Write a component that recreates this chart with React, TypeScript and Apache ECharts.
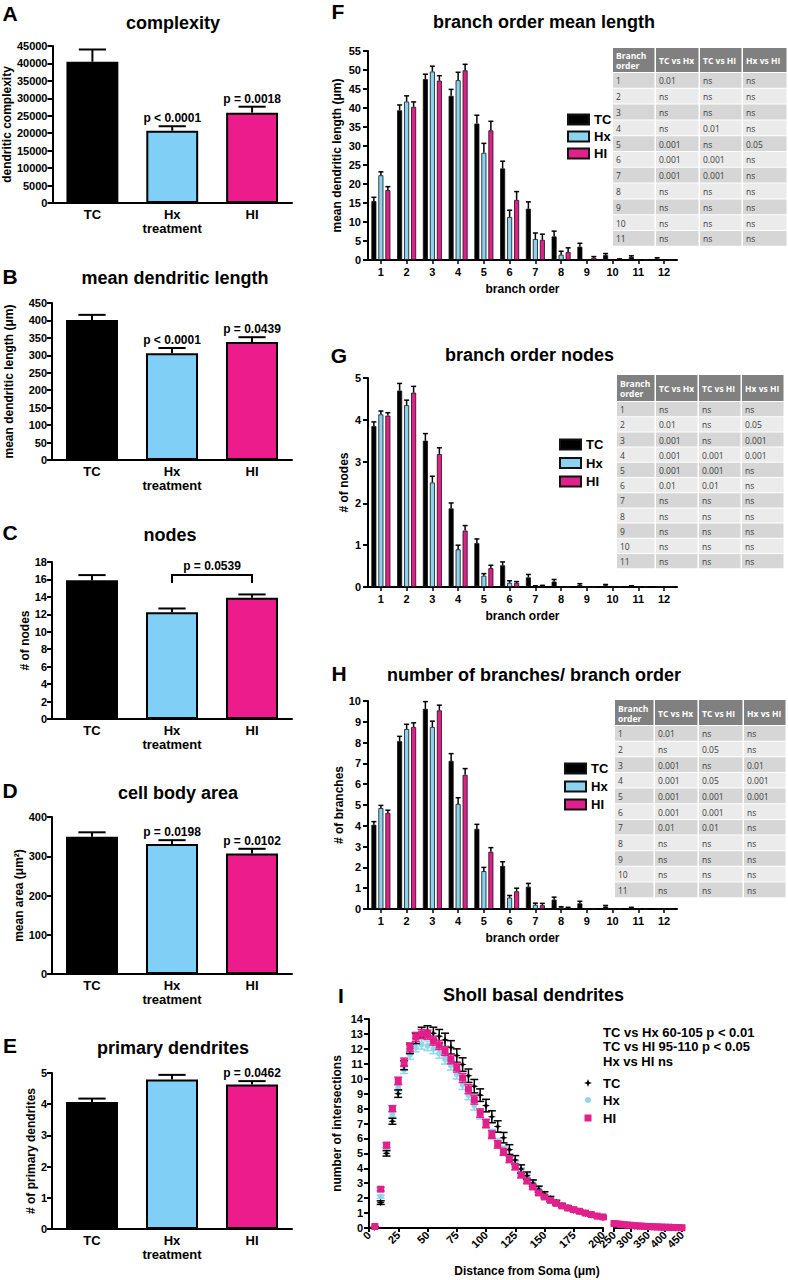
import React, { useEffect, useRef } from 'react';
import * as echarts from 'echarts';

// ---------------- data ----------------
const groups = ['TC', 'Hx', 'HI'];
const groupColors = ['#000000', '#80CFF7', '#EC1C8C'];

const complexityMean = [40500, 20700, 25900];
const complexityErr = [3500, 1300, 1700];
const complexityP = ['', 'p < 0.0001', 'p = 0.0018'];

const lengthMean = [401, 306, 338];
const lengthErr = [15, 15, 14];
const lengthP = ['', 'p < 0.0001', 'p = 0.0439'];

const nodesMean = [15.9, 12.25, 13.9];
const nodesErr = [0.6, 0.42, 0.38];
const nodesP = ['', '', ''];
const nodesBracketP = 'p = 0.0539';

const areaMean = [350, 331, 307];
const areaErr = [11, 10, 12];
const areaP = ['', 'p = 0.0198', 'p = 0.0102'];

const primaryMean = [4.07, 4.79, 4.63];
const primaryErr = [0.11, 0.15, 0.11];
const primaryP = ['', '', 'p = 0.0462'];

const branchOrders = ['1', '2', '3', '4', '5', '6', '7', '8', '9', '10', '11', '12'];

const fTC = [15.5, 39.4, 47.6, 43.2, 35.9, 24.1, 13.5, 6.2, 3.5, 1.3, 0.8, 0.4];
const fHx = [22.3, 41.7, 49.6, 47.3, 28.2, 11.3, 5.5, 1.4, 0, 0, 0, 0];
const fHI = [18.4, 40.3, 47.2, 49.9, 34.1, 15.8, 5.3, 2.1, 0.6, 0.2, 0, 0];
const fTCErr = [1.0, 1.4, 1.3, 1.7, 2.2, 1.9, 1.8, 1.4, 0.9, 0.4, 0.3, 0.2];
const fHxErr = [0.9, 1.5, 1.4, 2.1, 2.5, 1.8, 1.6, 0.9, 0, 0, 0, 0];
const fHIErr = [0.9, 1.3, 1.3, 1.6, 2.4, 2.2, 1.5, 1.1, 0.3, 0.1, 0, 0];

const gTC = [3.85, 4.7, 3.5, 1.88, 1.05, 0.52, 0.23, 0.13, 0.05, 0.04, 0.02, 0.01];
const gHx = [4.13, 4.35, 2.5, 0.9, 0.27, 0.1, 0.02, 0, 0, 0, 0, 0];
const gHI = [4.1, 4.65, 3.18, 1.35, 0.45, 0.1, 0.03, 0, 0, 0, 0, 0];
const gTCErr = [0.1, 0.17, 0.17, 0.13, 0.1, 0.08, 0.07, 0.05, 0.03, 0.02, 0.01, 0];
const gHxErr = [0.08, 0.12, 0.15, 0.1, 0.05, 0.05, 0.01, 0, 0, 0, 0, 0];
const gHIErr = [0.07, 0.15, 0.15, 0.12, 0.07, 0.03, 0.01, 0, 0, 0, 0, 0];

const hTC = [4.05, 8.07, 9.62, 7.12, 3.85, 2.07, 1.07, 0.45, 0.27, 0.12, 0.05, 0];
const hHx = [4.85, 8.65, 8.75, 5.05, 1.82, 0.55, 0.2, 0.08, 0, 0, 0, 0];
const hHI = [4.62, 8.75, 9.55, 6.45, 2.75, 0.85, 0.18, 0.05, 0, 0, 0, 0];
const hTCErr = [0.15, 0.23, 0.35, 0.35, 0.22, 0.2, 0.16, 0.12, 0.1, 0.05, 0.03, 0];
const hHxErr = [0.13, 0.23, 0.28, 0.3, 0.18, 0.1, 0.08, 0.03, 0, 0, 0, 0];
const hHIErr = [0.13, 0.2, 0.25, 0.3, 0.2, 0.15, 0.09, 0.03, 0, 0, 0, 0];

const tableHeaders = ['Branch\norder', 'TC vs Hx', 'TC vs HI', 'Hx vs HI'];
const tableOrders = ['1', '2', '3', '4', '5', '6', '7', '8', '9', '10', '11'];
const fTcHx = ['0.01', 'ns', 'ns', 'ns', '0.001', '0.001', '0.001', 'ns', 'ns', 'ns', 'ns'];
const fTcHI = ['ns', 'ns', 'ns', '0.01', 'ns', '0.001', '0.001', 'ns', 'ns', 'ns', 'ns'];
const fHxHI = ['ns', 'ns', 'ns', 'ns', '0.05', 'ns', 'ns', 'ns', 'ns', 'ns', 'ns'];
const gTcHx = ['ns', '0.01', '0.001', '0.001', '0.001', '0.01', 'ns', 'ns', 'ns', 'ns', 'ns'];
const gTcHI = ['ns', 'ns', 'ns', '0.001', '0.001', '0.01', 'ns', 'ns', 'ns', 'ns', 'ns'];
const gHxHI = ['ns', '0.05', '0.001', '0.001', 'ns', 'ns', 'ns', 'ns', 'ns', 'ns', 'ns'];
const hTcHx = ['0.01', 'ns', '0.001', '0.001', '0.001', '0.001', '0.01', 'ns', 'ns', 'ns', 'ns'];
const hTcHI = ['ns', '0.05', 'ns', '0.05', '0.001', '0.001', '0.01', 'ns', 'ns', 'ns', 'ns'];
const hHxHI = ['ns', 'ns', '0.01', '0.001', '0.001', 'ns', 'ns', 'ns', 'ns', 'ns', 'ns'];

const shollDist = [5, 10, 15, 20, 25, 30, 35, 40, 45, 50, 55, 60, 65, 70, 75, 80, 85, 90, 95, 100,
  105, 110, 115, 120, 125, 130, 135, 140, 145, 150, 155, 160, 165, 170, 175, 180, 185, 190, 195, 200];
const shollTC = [0.05, 1.7, 5.0, 7.15, 9.0, 10.9, 12.0, 12.7, 13.1, 13.2, 13.05, 12.85, 12.6, 12.1, 11.55, 10.95, 10.2, 9.5, 8.9, 8.2,
  7.45, 6.8, 6.05, 5.25, 4.55, 3.95, 3.5, 3.0, 2.6, 2.25, 1.95, 1.7, 1.5, 1.35, 1.2, 1.1, 0.98, 0.88, 0.78, 0.7];
const shollHx = [0.08, 2.1, 5.4, 7.6, 9.4, 10.6, 11.6, 12.1, 12.3, 12.2, 12.0, 11.7, 11.3, 10.9, 10.3, 9.6, 8.9, 8.2, 7.6, 7.0,
  6.35, 5.75, 5.25, 4.75, 4.3, 3.85, 3.45, 3.05, 2.65, 2.3, 2.0, 1.75, 1.55, 1.4, 1.25, 1.1, 1.0, 0.9, 0.8, 0.7];
const shollHI = [0.1, 2.6, 5.55, 8.0, 9.85, 11.1, 12.1, 12.8, 13.0, 12.95, 12.55, 12.25, 11.85, 11.3, 10.75, 10.05, 9.3, 8.6, 7.7, 7.0,
  6.25, 5.6, 5.1, 4.6, 4.1, 3.55, 3.15, 2.75, 2.35, 2.08, 1.85, 1.65, 1.48, 1.34, 1.23, 1.12, 1.0, 0.9, 0.8, 0.74];
const shollTCErr = [0.02, 0.12, 0.18, 0.2, 0.25, 0.3, 0.32, 0.35, 0.35, 0.35, 0.4, 0.45, 0.45, 0.45, 0.45, 0.45, 0.45, 0.45, 0.42, 0.42,
  0.4, 0.38, 0.35, 0.33, 0.3, 0.28, 0.25, 0.22, 0.2, 0.18, 0.16, 0.15, 0.13, 0.12, 0.11, 0.1, 0.1, 0.09, 0.08, 0.08];
const shollHxErr = [0.02, 0.1, 0.15, 0.18, 0.22, 0.25, 0.3, 0.3, 0.32, 0.32, 0.32, 0.32, 0.32, 0.32, 0.32, 0.32, 0.3, 0.3, 0.3, 0.28,
  0.26, 0.24, 0.22, 0.2, 0.2, 0.18, 0.17, 0.15, 0.14, 0.12, 0.11, 0.1, 0.1, 0.09, 0.08, 0.08, 0.07, 0.07, 0.06, 0.06];
const shollHIErr = [0.02, 0.12, 0.17, 0.2, 0.25, 0.28, 0.3, 0.3, 0.3, 0.3, 0.3, 0.3, 0.3, 0.3, 0.3, 0.3, 0.3, 0.3, 0.28, 0.28,
  0.26, 0.25, 0.23, 0.22, 0.2, 0.18, 0.17, 0.15, 0.14, 0.12, 0.11, 0.1, 0.1, 0.09, 0.08, 0.08, 0.07, 0.07, 0.06, 0.06];

const shollTailDist = [250, 260, 270, 280, 290, 300, 310, 320, 330, 340, 350, 360, 370, 380, 390, 400, 410, 420, 430, 440, 450];
const shollTailTC = [0.25, 0.23, 0.21, 0.19, 0.17, 0.15, 0.14, 0.12, 0.11, 0.1, 0.09, 0.08, 0.07, 0.06, 0.05, 0.04, 0.04, 0.03, 0.03, 0.02, 0.02];
const shollTailHx = [0.28, 0.25, 0.23, 0.2, 0.18, 0.16, 0.15, 0.13, 0.12, 0.1, 0.09, 0.08, 0.07, 0.06, 0.05, 0.05, 0.04, 0.03, 0.03, 0.02, 0.02];
const shollTailHI = [0.3, 0.27, 0.25, 0.22, 0.2, 0.18, 0.16, 0.14, 0.13, 0.11, 0.1, 0.09, 0.08, 0.07, 0.06, 0.05, 0.05, 0.04, 0.03, 0.03, 0.02];
const shollStats = ['TC vs Hx 60-105 p < 0.01', 'TC vs HI 95-110 p < 0.05', 'Hx vs HI ns'];

// ---------------- styling ----------------
const FONT = '"Liberation Sans", Arial, sans-serif';
const TFONT = '"Open Sans", "Noto Sans", sans-serif';
const HX_COLOR = '#8CD3F0';
const HI_COLOR = '#E2208B';
const SHOLL_HX = '#8FD6EC';
const STAR = 'path://M0,-10 L2.6,-2.6 L10,0 L2.6,2.6 L0,10 L-2.6,2.6 L-10,0 L-2.6,-2.6 Z';
const BAR_W = 5;
const BAR_GAP = 2;

function txt(x: number, y: number, text: string, size: number, align = 'center', weight = 'bold', fill = '#000', family = FONT) {
  return {
    type: 'text', x, y, silent: true,
    style: { text, font: `${weight} ${size}px ${family}`, fill, align, verticalAlign: 'middle' },
  };
}

function table(x0: number, y0: number, colW: number[], headerH: number, rowH: number, cols: string[][]) {
  const els: any[] = [];
  let x = x0;
  tableHeaders.forEach((h, c) => {
    els.push({ type: 'rect', silent: true, shape: { x, y: y0, width: colW[c] - 1.5, height: headerH - 1 }, style: { fill: '#808080' } });
    const lines = h.split('\n');
    lines.forEach((ln, k) => {
      els.push(txt(x + 3, y0 + headerH / 2 + (k - (lines.length - 1) / 2) * 10, ln, 8.5, 'left', 'bold', '#ffffff', TFONT));
    });
    x += colW[c];
  });
  tableOrders.forEach((ord, r) => {
    let xx = x0;
    const y = y0 + headerH + r * rowH;
    const cells = [ord, cols[0][r], cols[1][r], cols[2][r]];
    cells.forEach((cell, c) => {
      els.push({ type: 'rect', silent: true, shape: { x: xx, y, width: colW[c] - 1.5, height: rowH - 1 }, style: { fill: r % 2 === 0 ? '#D6D6D6' : '#EBEBEB' } });
      els.push(txt(xx + 3, y + rowH / 2, cell, 8.5, 'left', 'normal', '#3a3a3a', TFONT));
      xx += colW[c];
    });
  });
  return els;
}

const axisLineStyle = { lineStyle: { color: '#000', width: 2 } };
const tickStyle = { lineStyle: { color: '#000', width: 2 } };
const plainNum = (v: number) => String(v);

function buildOption() {
  const grid: any[] = [];
  const xAxis: any[] = [];
  const yAxis: any[] = [];
  const series: any[] = [];
  const legend: any[] = [];

  // ----- A-E: simple bar panels -----
  const barPanels = [
    { top: 46, height: 157, max: 45000, interval: 5000, yName: 'dendritic complexity', gap: 39, mean: complexityMean, err: complexityErr, p: complexityP },
    { top: 303, height: 157, max: 450, interval: 50, yName: 'mean dendritic length (μm)', gap: 37, mean: lengthMean, err: lengthErr, p: lengthP },
    { top: 562, height: 157, max: 18, interval: 2, yName: '# of nodes', gap: 20, mean: nodesMean, err: nodesErr, p: nodesP },
    { top: 817, height: 157, max: 400, interval: 100, yName: 'mean area (μm²)', gap: 22, mean: areaMean, err: areaErr, p: areaP },
    { top: 1073, height: 156, max: 5, interval: 1, yName: '# of primary dendrites', gap: 14, mean: primaryMean, err: primaryErr, p: primaryP },
  ];
  barPanels.forEach((bp, gi) => {
    grid.push({ left: 52, top: bp.top, width: 240, height: bp.height });
    xAxis.push({
      type: 'category', gridIndex: gi, data: groups,
      axisLine: axisLineStyle, axisTick: { show: false },
      axisLabel: { color: '#000', fontWeight: 'bold', fontSize: 13, fontFamily: FONT, margin: 5 },
      name: 'treatment', nameLocation: 'middle', nameGap: 19,
      nameTextStyle: { color: '#000', fontWeight: 'bold', fontSize: 13, fontFamily: FONT },
    });
    yAxis.push({
      type: 'value', gridIndex: gi, min: 0, max: bp.max, interval: bp.interval,
      axisLine: { show: true, ...axisLineStyle }, axisTick: { show: true, length: 5, ...tickStyle },
      splitLine: { show: false },
      axisLabel: { color: '#000', fontWeight: 'bold', fontSize: 11, fontFamily: FONT, margin: 5, formatter: plainNum },
      name: bp.yName, nameLocation: 'middle', nameGap: bp.gap,
      nameTextStyle: { color: '#000', fontWeight: 'bold', fontSize: 12, fontFamily: FONT },
    });
    series.push({
      type: 'bar', xAxisIndex: gi, yAxisIndex: gi, barWidth: '65%',
      data: bp.mean.map((v, i) => ({ value: v, itemStyle: { color: groupColors[i] } })),
      itemStyle: { borderColor: '#000', borderWidth: 2 },
    });
    const labels = bp.p;
    series.push({
      type: 'custom', xAxisIndex: gi, yAxisIndex: gi, z: 5,
      data: bp.mean.map((v, i) => [i, v, bp.err[i]]),
      renderItem: (params: any, api: any) => {
        const cat = api.value(0), v = api.value(1), e = api.value(2);
        const p0 = api.coord([cat, v]);
        const p1 = api.coord([cat, v + e]);
        const half = api.size([1, 0])[0] * 0.17;
        const children: any[] = [
          { type: 'line', shape: { x1: p0[0], y1: p0[1], x2: p1[0], y2: p1[1] }, style: { stroke: '#000', lineWidth: 2 } },
          { type: 'line', shape: { x1: p1[0] - half, y1: p1[1], x2: p1[0] + half, y2: p1[1] }, style: { stroke: '#000', lineWidth: 2 } },
        ];
        const lab = labels[params.dataIndex];
        if (lab) {
          children.push({ type: 'text', x: p1[0], y: p1[1] - 2, style: { text: lab, font: `bold 12px ${FONT}`, fill: '#000', align: 'center', verticalAlign: 'bottom' } });
        }
        return { type: 'group', children };
      },
    });
  });
  // bracket for panel C (grid 2)
  series.push({
    type: 'custom', xAxisIndex: 2, yAxisIndex: 2, z: 5,
    data: [[1, 2]],
    renderItem: (params: any, api: any) => {
      const a = api.coord([api.value(0), 16.5]);
      const b = api.coord([api.value(1), 16.5]);
      const d = api.coord([api.value(0), 15.6]);
      return {
        type: 'group', children: [
          { type: 'polyline', shape: { points: [[a[0], d[1]], [a[0], a[1]], [b[0], a[1]], [b[0], d[1]]] }, style: { stroke: '#000', lineWidth: 2, fill: 'none' } },
          { type: 'text', x: (a[0] + b[0]) / 2, y: a[1] - 3, style: { text: nodesBracketP, font: `bold 12px ${FONT}`, fill: '#000', align: 'center', verticalAlign: 'bottom' } },
        ],
      };
    },
  });

  // ----- F-H: grouped bar panels -----
  const groupPanels = [
    { top: 51, height: 209, max: 55, interval: 5, yName: 'mean dendritic length (μm)', gap: 25, vals: [fTC, fHx, fHI], errs: [fTCErr, fHxErr, fHIErr], lg: { left: 562, top: 108, gap: 4 } },
    { top: 378, height: 209, max: 5, interval: 1, yName: '# of nodes', gap: 18, vals: [gTC, gHx, gHI], errs: [gTCErr, gHxErr, gHIErr], lg: { left: 554, top: 433, gap: 5.5 } },
    { top: 701, height: 208, max: 10, interval: 1, yName: '# of branches', gap: 23, vals: [hTC, hHx, hHI], errs: [hTCErr, hHxErr, hHIErr], lg: { left: 559, top: 757, gap: 5 } },
  ];
  const barColors = ['#000000', HX_COLOR, HI_COLOR];
  groupPanels.forEach((gp, k) => {
    const gi = 5 + k;
    grid.push({ left: 368, top: gp.top, width: 309, height: gp.height });
    xAxis.push({
      type: 'category', gridIndex: gi, data: branchOrders,
      axisLine: axisLineStyle, axisTick: { show: true, alignWithLabel: true, length: 4, lineStyle: { color: '#000', width: 1.5 } },
      axisLabel: { color: '#000', fontWeight: 'bold', fontSize: 11, fontFamily: FONT, margin: 6 },
      name: 'branch order', nameLocation: 'middle', nameGap: 23,
      nameTextStyle: { color: '#000', fontWeight: 'bold', fontSize: 12, fontFamily: FONT },
    });
    yAxis.push({
      type: 'value', gridIndex: gi, min: 0, max: gp.max, interval: gp.interval,
      axisLine: { show: true, ...axisLineStyle }, axisTick: { show: true, length: 5, ...tickStyle },
      splitLine: { show: false },
      axisLabel: { color: '#000', fontWeight: 'bold', fontSize: 11, fontFamily: FONT, margin: 7, formatter: plainNum },
      name: gp.yName, nameLocation: 'middle', nameGap: gp.gap,
      nameTextStyle: { color: '#000', fontWeight: 'bold', fontSize: 12, fontFamily: FONT },
    });
    gp.vals.forEach((vals, s) => {
      series.push({
        type: 'bar', name: groups[s], xAxisIndex: gi, yAxisIndex: gi,
        barWidth: BAR_W, barGap: `${(BAR_GAP / BAR_W) * 100}%`,
        data: vals,
        itemStyle: { color: barColors[s], borderColor: '#111', borderWidth: 0.8 },
      });
    });
    gp.vals.forEach((vals, s) => {
      const offset = (s - 1) * (BAR_W + BAR_GAP);
      series.push({
        type: 'custom', xAxisIndex: gi, yAxisIndex: gi, z: 5,
        data: vals.map((v, i) => [i, v, gp.errs[s][i]]),
        renderItem: (params: any, api: any) => {
          const cat = api.value(0), v = api.value(1), e = api.value(2);
          if (!(e > 0)) return { type: 'group', children: [] };
          const p0 = api.coord([cat, v]);
          const p1 = api.coord([cat, v + e]);
          const x = p0[0] + offset;
          return {
            type: 'group', children: [
              { type: 'line', shape: { x1: x, y1: p0[1], x2: x, y2: p1[1] }, style: { stroke: '#000', lineWidth: 1.5 } },
              { type: 'line', shape: { x1: x - 2.5, y1: p1[1], x2: x + 2.5, y2: p1[1] }, style: { stroke: '#000', lineWidth: 1.5 } },
            ],
          };
        },
      });
    });
    legend.push({
      left: gp.lg.left, top: gp.lg.top, orient: 'vertical', selectedMode: false,
      data: groups, icon: 'rect', itemWidth: 21, itemHeight: 10, itemGap: gp.lg.gap,
      textStyle: { color: '#000', fontWeight: 'bold', fontSize: 13, fontFamily: FONT },
    });
  });

  // ----- I: Sholl (broken axis: two grids) -----
  grid.push({ left: 369, top: 1019, width: 234, height: 209 });
  grid.push({ left: 614, top: 1019, width: 68, height: 209 });
  const shollXLabel = { color: '#000', fontWeight: 'bold', fontSize: 11, fontFamily: FONT, margin: 5, rotate: 45, formatter: plainNum };
  xAxis.push({
    type: 'value', gridIndex: 8, min: 0, max: 200, interval: 25,
    axisLine: { show: true, ...axisLineStyle }, axisTick: { show: true, length: 4, ...tickStyle },
    splitLine: { show: false }, axisLabel: shollXLabel,
  });
  xAxis.push({
    type: 'value', gridIndex: 9, min: 250, max: 450, interval: 50,
    axisLine: { show: true, ...axisLineStyle }, axisTick: { show: true, length: 4, ...tickStyle },
    splitLine: { show: false }, axisLabel: shollXLabel,
  });
  yAxis.push({
    type: 'value', gridIndex: 8, min: 0, max: 14, interval: 1,
    axisLine: { show: true, ...axisLineStyle }, axisTick: { show: true, length: 5, ...tickStyle },
    splitLine: { show: false },
    axisLabel: { color: '#000', fontWeight: 'bold', fontSize: 11, fontFamily: FONT, margin: 6, formatter: plainNum },
    name: 'number of intersections', nameLocation: 'middle', nameGap: 26,
    nameTextStyle: { color: '#000', fontWeight: 'bold', fontSize: 12, fontFamily: FONT },
  });
  yAxis.push({ type: 'value', gridIndex: 9, min: 0, max: 14, show: false });

  const shollSets = [
    { name: 'Hx', vals: shollHx, errs: shollHxErr, tail: shollTailHx, color: SHOLL_HX, symbol: 'circle', size: 6 },
    { name: 'TC', vals: shollTC, errs: shollTCErr, tail: shollTailTC, color: '#000', symbol: STAR, size: 8 },
    { name: 'HI', vals: shollHI, errs: shollHIErr, tail: shollTailHI, color: HI_COLOR, symbol: 'rect', size: 7 },
  ];
  shollSets.forEach((ss, k) => {
    series.push({
      type: 'custom', xAxisIndex: 8, yAxisIndex: 8, z: 3 + k * 2,
      data: shollDist.map((d, i) => [d, ss.vals[i], ss.errs[i]]),
      renderItem: (params: any, api: any) => {
        const x = api.value(0), v = api.value(1), e = api.value(2);
        const lo = api.coord([x, v - e]);
        const hi = api.coord([x, v + e]);
        return {
          type: 'group', children: [
            { type: 'line', shape: { x1: lo[0], y1: lo[1], x2: hi[0], y2: hi[1] }, style: { stroke: ss.color, lineWidth: 1.5 } },
            { type: 'line', shape: { x1: hi[0] - 4, y1: hi[1], x2: hi[0] + 4, y2: hi[1] }, style: { stroke: ss.color, lineWidth: 1.5 } },
            { type: 'line', shape: { x1: lo[0] - 4, y1: lo[1], x2: lo[0] + 4, y2: lo[1] }, style: { stroke: ss.color, lineWidth: 1.5 } },
          ],
        };
      },
    });
    series.push({
      type: 'scatter', name: ss.name, xAxisIndex: 8, yAxisIndex: 8, z: 4 + k * 2,
      symbol: ss.symbol, symbolSize: ss.size,
      data: shollDist.map((d, i) => [d, ss.vals[i]]),
      itemStyle: { color: ss.color, opacity: 1 },
    });
    series.push({
      type: 'scatter', name: ss.name, xAxisIndex: 9, yAxisIndex: 9, z: 4 + k * 2,
      symbol: ss.symbol, symbolSize: ss.size,
      data: shollTailDist.map((d, i) => [d, ss.tail[i]]),
      itemStyle: { color: ss.color, opacity: 1 },
    });
  });

  // ----- graphic: letters, titles, tables, annotations -----
  const graphic: any[] = [
    txt(10, 13, 'A', 21), txt(10, 276, 'B', 21), txt(10, 532, 'C', 21), txt(10, 790, 'D', 21), txt(10, 1045, 'E', 21),
    txt(338, 11, 'F', 21), txt(339, 355, 'G', 21), txt(339, 673, 'H', 21), txt(341, 995, 'I', 21),
    txt(173, 23, 'complexity', 18), txt(175, 278, 'mean dendritic length', 18), txt(170, 535, 'nodes', 18),
    txt(178, 793, 'cell body area', 18), txt(173, 1048, 'primary dendrites', 18),
    txt(433, 22, 'branch order mean length', 18, 'left'), txt(445, 355, 'branch order nodes', 18, 'left'),
    txt(387, 675, 'number of branches/ branch order', 18, 'left'), txt(443, 995, 'Sholl basal dendrites', 18, 'left'),
    txt(527, 1271, 'Distance from Soma (μm)', 12),
    ...table(613, 48, [43, 44, 43, 45], 25, 15.8, [fTcHx, fTcHI, fHxHI]),
    ...table(617, 375, [39, 43, 43, 43], 27, 15.2, [gTcHx, gTcHI, gHxHI]),
    ...table(615, 700, [40, 44, 45, 43], 26, 15.65, [hTcHx, hTcHI, hHxHI]),
  ];
  shollStats.forEach((s, i) => graphic.push(txt(603, 1032 + i * 14.5, s, 13, 'left')));
  // Sholl legend
  graphic.push({ type: 'polygon', silent: true, x: 588, y: 1083, shape: { points: [[0, -4], [1.1, -1.1], [4, 0], [1.1, 1.1], [0, 4], [-1.1, 1.1], [-4, 0], [-1.1, -1.1]] }, style: { fill: '#000' } });
  graphic.push({ type: 'circle', silent: true, shape: { cx: 588, cy: 1100, r: 3 }, style: { fill: SHOLL_HX } });
  graphic.push({ type: 'rect', silent: true, shape: { x: 584.5, y: 1114.5, width: 7, height: 7 }, style: { fill: HI_COLOR } });
  graphic.push(txt(603, 1083, 'TC', 13, 'left'));
  graphic.push(txt(603, 1100, 'Hx', 13, 'left'));
  graphic.push(txt(603, 1118, 'HI', 13, 'left'));

  return {
    animation: false,
    backgroundColor: '#ffffff',
    textStyle: { fontFamily: FONT },
    grid, xAxis, yAxis, series, legend, graphic,
  };
}

export default function App() {
  const ref = useRef<HTMLDivElement>(null);
  useEffect(() => {
    const chart = echarts.init(ref.current as HTMLDivElement, null, { renderer: 'svg' });
    chart.setOption(buildOption() as any);
    return () => chart.dispose();
  }, []);
  return <div ref={ref} style={{ position: 'absolute', left: 0, top: 0, width: 788, height: 1280, background: '#fff' }} />;
}
